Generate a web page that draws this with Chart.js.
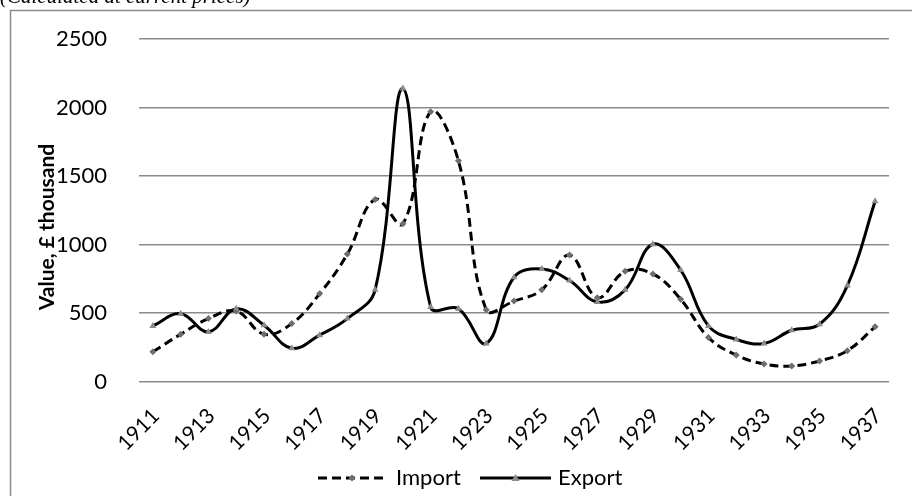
<!DOCTYPE html>
<html>
<head>
<meta charset="utf-8">
<title>Import and Export, 1911–1937</title>
<script src="https://cdn.jsdelivr.net/npm/chart.js@4/dist/chart.umd.min.js"></script>
<style>
  html, body { margin: 0; padding: 0; background: #ffffff; }
  canvas { display: block; }
</style>
</head>
<body>
<canvas id="chart" width="912" height="496"></canvas>
<script>
// Years on the category axis
const years = [
  '1911','1912','1913','1914','1915','1916','1917','1918','1919','1920',
  '1921','1922','1923','1924','1925','1926','1927','1928','1929','1930',
  '1931','1932','1933','1934','1935','1936','1937'
];

// Values, £ thousand
const importValues = [
  217, 345, 459, 514, 345, 423, 640, 930, 1329, 1152,
  1969, 1611, 524, 587, 669, 923, 611, 804, 785, 600,
  321, 193, 128, 114, 150, 225, 399
];
const exportValues = [
  406, 495, 362, 531, 411, 242, 338, 459, 669, 2138,
  543, 531, 278, 761, 821, 737, 580, 669, 1002, 814,
  406, 307, 278, 374, 418, 700, 1316
];

// Value axis ticks
const yTicks = [0, 500, 1000, 1500, 2000, 2500];

const FONT = 'Lato, "Open Sans", "DejaVu Sans", sans-serif';
const GRID = '#8a8a8a';
const IMPORT_DASH = [9, 5];

// Page decorations: frame, caption line, axis title and legend
const decorations = {
  id: 'decorations',
  beforeDraw(chart) {
    const ctx = chart.ctx;
    ctx.save();
    ctx.strokeStyle = '#8c8c8c';
    ctx.lineWidth = 1.5;
    ctx.strokeRect(10.5, 10.5, 1000, 1000);
    ctx.restore();
  },
  afterDraw(chart) {
    const ctx = chart.ctx;
    ctx.save();

    // caption above the frame
    ctx.fillStyle = '#000';
    ctx.font = 'italic 21px "Liberation Serif", serif';
    ctx.textAlign = 'left';
    ctx.textBaseline = 'alphabetic';
    ctx.fillText('(Calculated at current prices)', 0, 3);

    // value axis title
    ctx.save();
    ctx.translate(47, 227);
    ctx.rotate(-Math.PI / 2);
    ctx.font = 'bold 21px ' + FONT;
    ctx.textAlign = 'center';
    ctx.textBaseline = 'middle';
    ctx.fillText('Value, £ thousand', 0, 0);
    ctx.restore();

    // legend
    const ly = 478;
    ctx.lineWidth = 3;
    ctx.strokeStyle = '#000';
    ctx.setLineDash(IMPORT_DASH);
    ctx.beginPath(); ctx.moveTo(318, ly); ctx.lineTo(386, ly); ctx.stroke();
    ctx.setLineDash([]);
    ctx.fillStyle = '#6e6e6e';
    ctx.beginPath();
    ctx.moveTo(352, ly - 3.5); ctx.lineTo(355.5, ly); ctx.lineTo(352, ly + 3.5); ctx.lineTo(348.5, ly);
    ctx.closePath(); ctx.fill();

    ctx.beginPath(); ctx.moveTo(480, ly); ctx.lineTo(551, ly); ctx.stroke();
    ctx.fillStyle = '#8a8a8a';
    ctx.beginPath();
    ctx.moveTo(515.5, ly - 4); ctx.lineTo(519.5, ly + 3); ctx.lineTo(511.5, ly + 3);
    ctx.closePath(); ctx.fill();

    ctx.fillStyle = '#000';
    ctx.font = '22px ' + FONT;
    ctx.textAlign = 'left';
    ctx.textBaseline = 'middle';
    ctx.fillText('Import', 396, ly);
    ctx.fillText('Export', 558, ly);
    ctx.restore();
  }
};

new Chart(document.getElementById('chart'), {
  type: 'line',
  data: {
    labels: years,
    datasets: [
      {
        label: 'Import',
        data: importValues,
        borderColor: '#000',
        borderWidth: 3,
        borderDash: IMPORT_DASH,
        tension: 0.4,
        pointStyle: 'rectRot',
        pointRadius: 3.5,
        pointBorderWidth: 0,
        pointBackgroundColor: '#6e6e6e',
        pointBorderColor: '#6e6e6e',
        order: 1
      },
      {
        label: 'Export',
        data: exportValues,
        borderColor: '#000',
        borderWidth: 3,
        tension: 0.4,
        pointStyle: 'triangle',
        pointRadius: 4,
        pointBorderWidth: 0,
        pointBackgroundColor: '#8a8a8a',
        pointBorderColor: '#8a8a8a',
        order: 0
      }
    ]
  },
  options: {
    responsive: false,
    animation: false,
    devicePixelRatio: 1,
    layout: { padding: { left: 0, top: 39, right: 23, bottom: 0 } },
    plugins: {
      legend: { display: false },
      tooltip: { enabled: false }
    },
    scales: {
      x: {
        offset: true,
        grid: { display: false, drawTicks: false },
        border: { display: false },
        ticks: {
          autoSkip: false,
          minRotation: 45,
          maxRotation: 45,
          padding: 22,
          labelOffset: 3,
          color: '#000',
          font: { family: FONT, size: 21 },
          callback: (v, i) => (i % 2 === 0 ? years[i] : '')
        },
        afterFit: (s) => {
          s.height = 114.5;
          s.paddingLeft = 0;
          s.paddingRight = 0;
        }
      },
      y: {
        min: 0,
        max: 2500,
        afterBuildTicks: (s) => { s.ticks = yTicks.map(v => ({ value: v })); },
        grid: { color: GRID, lineWidth: 1.5, drawTicks: false },
        border: { display: false },
        ticks: {
          padding: 32,
          color: '#000',
          font: { family: FONT, size: 22 },
          callback: (v) => String(v)
        },
        afterFit: (s) => {
          s.width = 139;
          s.paddingTop = 0;
          s.paddingBottom = 0;
        }
      }
    }
  },
  plugins: [decorations]
});
</script>
</body>
</html>
